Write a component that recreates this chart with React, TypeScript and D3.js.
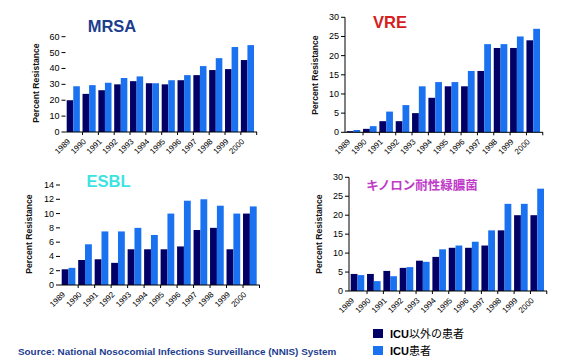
import React from "react";
import * as d3 from "d3";

const years = ["1989", "1990", "1991", "1992", "1993", "1994", "1995", "1996", "1997", "1998", "1999", "2000"];
const seriesNames = ["ICU以外の患者", "ICU患者"];

const mrsaNonIcu = [20, 24, 26.3, 30, 32, 30.7, 30, 32.6, 35.8, 39, 39.6, 45.3];
const mrsaIcu = [28.8, 29.5, 31, 34, 35, 30.7, 32.6, 35.8, 41.5, 46.5, 53.5, 54.7];
const vreNonIcu = [0.3, 0.9, 2.9, 2.9, 5, 9, 12, 12, 16, 22, 22, 24];
const vreIcu = [0.6, 1.6, 5.4, 7.1, 12, 13.1, 13.1, 16, 23, 23, 25, 27];
const esblNonIcu = [2.2, 3.5, 3.6, 3.1, 5, 5, 5, 5.4, 7.7, 8, 5, 10];
const esblIcu = [2.4, 5.7, 7.5, 7.5, 8, 7, 10, 11.8, 12, 11.1, 10, 11];
const quinNonIcu = [4.5, 4.5, 5.3, 6.1, 8, 9, 11.4, 11.4, 12, 16, 20, 20];
const quinIcu = [4.2, 2.6, 3.9, 6.3, 7.7, 11, 12, 13, 16, 23, 23, 27];

const colors = ["#000066", "#1a72f0"];
const latin = "'Liberation Sans', Arial, sans-serif";
const cjk = "'Liberation Sans', 'Noto Sans CJK JP', sans-serif";

const panels = [
  { title: "MRSA", color: "#1c3d8f", a: mrsaNonIcu, b: mrsaIcu, max: 60, step: 10,
    x0: 66.7, x1: 254, top: 36.7, base: 132, axisX: 65.5, axisLine: false,
    tx: 112, ty: 31.5, tSize: 16.5, ly: 83, lx: 39 },
  { title: "VRE", color: "#d42020", a: vreNonIcu, b: vreIcu, max: 30, step: 5,
    x0: 346.7, x1: 540, top: 17.3, base: 132.3, axisX: 345, axisLine: true,
    tx: 390, ty: 28, tSize: 16.5, ly: 75, lx: 318 },
  { title: "ESBL", color: "#3ce3e3", a: esblNonIcu, b: esblIcu, max: 14, step: 2,
    x0: 61.7, x1: 256.7, top: 185, base: 285, axisX: 60, axisLine: false,
    tx: 108.5, ty: 187, tSize: 16.5, ly: 234, lx: 32 },
  { title: "キノロン耐性緑膿菌", color: "#c03cc8", a: quinNonIcu, b: quinIcu, max: 30, step: 5,
    x0: 350.7, x1: 544, top: 177.3, base: 291, axisX: 349, axisLine: true,
    tx: 422, ty: 190, tSize: 12.5, ly: 234, lx: 322 },
];

function Panel({ p }: { p: (typeof panels)[number] }) {
  const x = d3.scaleBand<string>().domain(years).range([p.x0, p.x1]).paddingInner(0.17).paddingOuter(0);
  const sub = d3.scaleBand<number>().domain([0, 1]).range([0, x.bandwidth()]);
  const y = d3.scaleLinear().domain([0, p.max]).range([p.base, p.top]);
  const ticks = d3.range(0, p.max + 0.001, p.step);
  const stepW = x.step();

  return (
    <g>
      <text x={p.tx} y={p.ty} textAnchor="middle" fontFamily={cjk} fontWeight="bold"
        fontSize={p.tSize} fill={p.color}>{p.title}</text>
      <text transform={`translate(${p.lx},${p.ly}) rotate(-90)`} textAnchor="middle"
        fontFamily={latin} fontSize={8.6} fontWeight="bold" fill="#111">Percent Resistance</text>
      {ticks.map((t) => (
        <g key={t}>
          <line x1={p.axisX - 4} x2={p.axisX} y1={y(t)} y2={y(t)} stroke="#000" strokeWidth={1} />
          <text x={p.axisX - 6} y={y(t) + 3} textAnchor="end" fontFamily={latin} fontSize={9}>{t}</text>
        </g>
      ))}
      {p.axisLine && <line x1={p.axisX} x2={p.axisX} y1={p.top} y2={p.base} stroke="#000" />}
      {years.map((yr, i) => (
        <g key={yr}>
          {[p.a[i], p.b[i]].map((v, k) => (
            <rect key={k} x={(x(yr) as number) + sub(k)!} y={y(v)} width={sub.bandwidth()}
              height={p.base - y(v)} fill={colors[k]} />
          ))}
          <line x1={(x(yr) as number) + stepW} x2={(x(yr) as number) + stepW} y1={p.base} y2={p.base + 3}
            stroke="#000" />
          <text transform={`translate(${(x(yr) as number) + 4},${p.base + 10}) rotate(-45)`}
            textAnchor="end" fontFamily={latin} fontSize={8}>{yr}</text>
        </g>
      ))}
      <line x1={p.axisX} x2={p.x1 + 3} y1={p.base} y2={p.base} stroke="#000" />
    </g>
  );
}

export default function App() {
  return (
    <svg width={565} height={361} style={{ position: "absolute", left: 0, top: 0, background: "#fff" }}>
      {panels.map((p) => <Panel key={p.title} p={p} />)}
      {seriesNames.map((s, k) => (
        <g key={s}>
          <rect x={373} y={329 + k * 17} width={10} height={9} fill={colors[k]} />
          <text x={390} y={338 + k * 17} fontFamily={cjk} fontSize={11} fill="#000">
            <tspan fontWeight="bold">ICU</tspan>{s.slice(3)}
          </text>
        </g>
      ))}
      <text x={18} y={355} fontFamily={latin} fontSize={9.9} fontWeight="bold" fill="#1c3d8f">
        Source: National Nosocomial Infections Surveillance (NNIS) System
      </text>
    </svg>
  );
}
